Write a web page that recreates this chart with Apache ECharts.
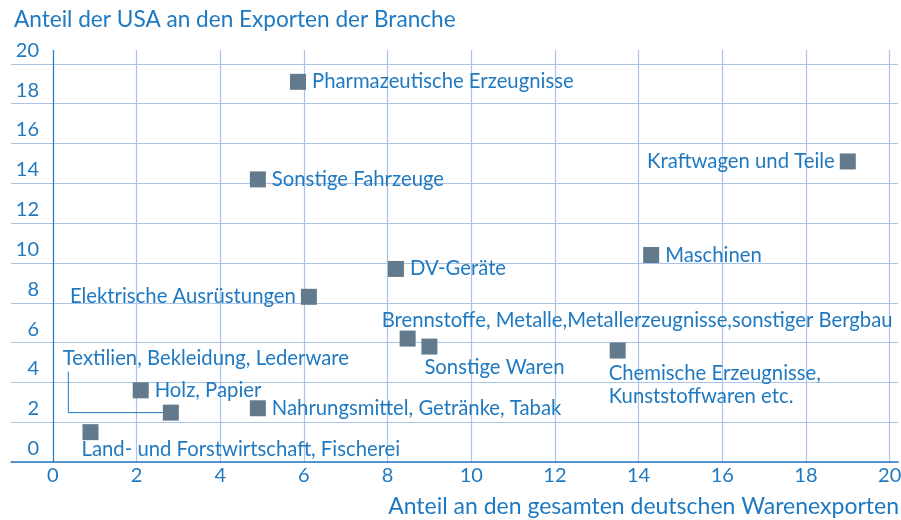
<!DOCTYPE html>
<html>
<head>
<meta charset="utf-8">
<script src="https://cdn.jsdelivr.net/npm/echarts@6/dist/echarts.min.js"></script>
<style>
  html, body { margin: 0; padding: 0; background: #fff; }
  #chart { width: 901px; height: 520px; }
</style>
</head>
<body>
<div id="chart"></div>
<script>
// Branchen und Werte (x: Anteil an den deutschen Warenexporten, y: Anteil der USA)
const branches = [
  'Pharmazeutische Erzeugnisse',
  'Sonstige Fahrzeuge',
  'Kraftwagen und Teile',
  'Maschinen',
  'DV-Geräte',
  'Elektrische Ausrüstungen',
  'Brennstoffe, Metalle,Metallerzeugnisse,sonstiger Bergbau',
  'Sonstige Waren',
  'Chemische Erzeugnisse,\nKunststoffwaren etc.',
  'Textilien, Bekleidung, Lederware',
  'Holz, Papier',
  'Nahrungsmittel, Getränke, Tabak',
  'Land- und Forstwirtschaft, Fischerei'
]
const exportShare = [5.86, 4.9, 19.0, 14.3, 8.2, 6.12, 8.48, 9.0, 13.5, 2.82, 2.1, 4.9, 0.9]
const usaShare = [19.1, 14.2, 15.1, 10.4, 9.7, 8.3, 6.2, 5.8, 5.6, 2.48, 3.6, 2.7, 1.5]
const xTicks = [0, 2, 4, 6, 8, 10, 12, 14, 16, 18, 20]
const yTicks = [0, 2, 4, 6, 8, 10, 12, 14, 16, 18, 20]

const blue = '#1f79c1'
const gridBlue = '#a9c4e7'
const axisBlue = '#2d7cc0'
const markerColor = '#627a8c'
const font = 'Lato'

// label placement relative to the 16px marker box
const right = { position: [22, 8], align: 'left', verticalAlign: 'middle' }
const left = { position: [-5, 8], align: 'right', verticalAlign: 'middle' }
const labelPlacement = [
  right, right, left, right, right, left,
  { position: [-18, -10], align: 'left', verticalAlign: 'middle' },
  { position: [3, 29], align: 'left', verticalAlign: 'middle' },
  { position: [-1, 19], align: 'left', verticalAlign: 'top' },
  { position: [-100, -46], align: 'left', verticalAlign: 'middle' },
  right, right,
  { position: [-1, 25], align: 'left', verticalAlign: 'middle' }
]

const chart = echarts.init(document.getElementById('chart'))

const points = branches.map((name, i) => ({
  name: name,
  value: [exportShare[i], usaShare[i]],
  label: labelPlacement[i]
}))

// Hinweislinie für Textilien
const ti = branches.indexOf('Textilien, Bekleidung, Lederware')
const leader = [
  [0.37, 4.54],
  [0.37, usaShare[ti]],
  [exportShare[ti], usaShare[ti]]
]

const option = {
  animation: false,
  textStyle: { fontFamily: font },
  title: [
    {
      text: 'Anteil der USA an den Exporten der Branche',
      left: 9, top: 3,
      textStyle: { color: blue, fontSize: 22.6, fontWeight: 'normal', fontFamily: font }
    },
    {
      text: 'Anteil an den gesamten deutschen Warenexporten',
      right: -3, top: 490,
      textStyle: { color: blue, fontSize: 23, fontWeight: 'normal', fontFamily: font }
    }
  ],
  grid: { left: 11, right: 3, top: 50, bottom: 58, containLabel: false, outerBoundsMode: 'none' },
  xAxis: {
    type: 'value',
    min: -1,
    max: 20.2,
    axisLine: { show: true, onZero: false, lineStyle: { color: axisBlue, width: 1.5 } },
    axisTick: { show: false, customValues: xTicks },
    axisLabel: { customValues: xTicks, color: blue, fontSize: 20, margin: 4, fontFamily: font },
    splitLine: { show: true, lineStyle: { color: gridBlue, width: 1.2 } }
  },
  yAxis: {
    type: 'value',
    min: 0,
    max: 20.7,
    axisLine: { show: false, onZero: false },
    axisTick: { show: false, customValues: yTicks },
    axisLabel: {
      customValues: yTicks, color: blue, fontSize: 20, margin: -28,
      verticalAlign: 'bottom', lineHeight: 27, fontFamily: font
    },
    splitLine: { show: true, lineStyle: { color: gridBlue, width: 1.2 } }
  },
  series: [
    {
      type: 'line',
      data: leader,
      symbol: 'none',
      silent: true,
      lineStyle: { color: blue, width: 1 },
      z: 1,
      // senkrechte Achslinie bei x = 0
      markLine: {
        silent: true,
        symbol: 'none',
        label: { show: false },
        lineStyle: { color: axisBlue, width: 1.2, type: 'solid' },
        data: [{ xAxis: 0 }]
      }
    },
    {
      type: 'scatter',
      data: points,
      symbol: 'rect',
      symbolSize: 16,
      itemStyle: { color: markerColor, opacity: 1 },
      label: {
        show: true,
        formatter: '{b}',
        color: blue,
        fontSize: 20.3,
        lineHeight: 23,
        fontFamily: font
      },
      z: 3
    }
  ]
}

chart.setOption(option)
</script>
</body>
</html>
